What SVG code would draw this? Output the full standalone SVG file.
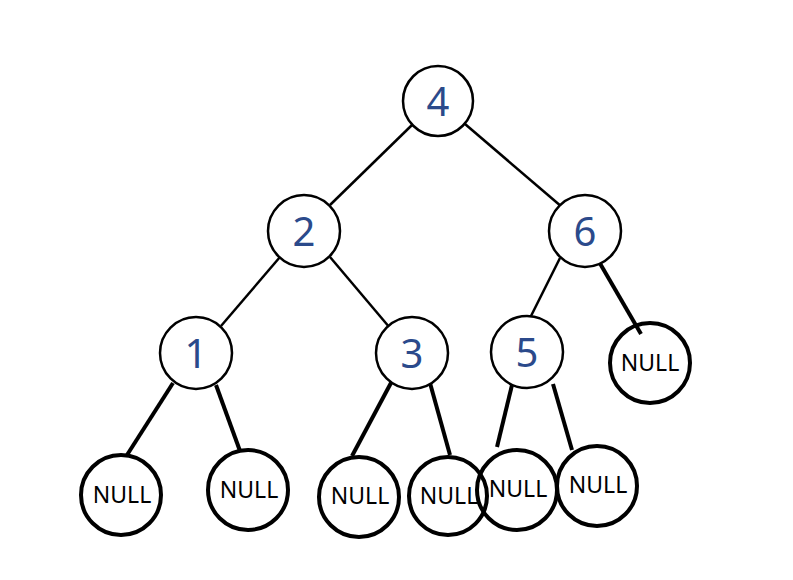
<svg xmlns="http://www.w3.org/2000/svg" width="793" height="580" viewBox="0 0 793 580">
<style>
.n{fill:#fff;stroke:#000;stroke-width:2.5}
.z{fill:none;stroke:#000;stroke-width:4}
.d{font-family:"Noto Sans","DejaVu Sans",sans-serif;font-size:40px;fill:#2B4A8B;text-anchor:middle}
.t{font-family:"Noto Sans","DejaVu Sans",sans-serif;font-size:23px;fill:#000;text-anchor:middle}
.e1{stroke:#000;stroke-width:2.5;fill:none}
.e2{stroke:#000;stroke-width:4;fill:none}
</style>
<rect width="793" height="580" fill="#fff"/>
<g id="edges">
<line class="e1" x1="412" y1="125" x2="330" y2="205"/>
<line class="e1" x1="465" y1="124" x2="562" y2="207"/>
<line class="e1" x1="280" y1="257" x2="221" y2="326"/>
<line class="e1" x1="330" y1="257" x2="390" y2="328"/>
<line class="e1" x1="560" y1="258" x2="530" y2="318"/>
<line class="e2" x1="598" y1="260" x2="641" y2="334"/>
<line class="e2" x1="173" y1="383" x2="127" y2="455"/>
<line class="e2" x1="216" y1="385" x2="240" y2="451"/>
<line class="e2" x1="392" y1="381" x2="352" y2="456"/>
<line class="e2" x1="430" y1="383" x2="450" y2="455"/>
<line class="e2" x1="512" y1="385" x2="497" y2="447"/>
<line class="e2" x1="553" y1="384" x2="572" y2="450"/>
</g>
<g id="n4"><circle class="n" cx="438" cy="101" r="35"/><text class="d" x="438" y="116">4</text></g>
<g id="n2"><circle class="n" cx="304" cy="231" r="36"/><text class="d" x="304" y="246">2</text></g>
<g id="n6"><circle class="n" cx="585" cy="231" r="36"/><text class="d" x="585" y="246">6</text></g>
<g id="n1"><circle class="n" cx="196" cy="353" r="36"/><text class="d" x="196" y="368">1</text></g>
<g id="n3"><circle class="n" cx="412" cy="353" r="36"/><text class="d" x="412" y="368">3</text></g>
<g id="n5"><circle class="n" cx="527" cy="352" r="36"/><text class="d" x="527" y="367">5</text></g>
<g id="null6r"><circle class="z" cx="650" cy="363" r="40"/><text class="t" x="650" y="371">NULL</text></g>
<g id="null1a"><circle class="z" cx="121" cy="495" r="40"/><text class="t" x="122" y="503">NULL</text></g>
<g id="null1b"><circle class="z" cx="248" cy="490" r="40"/><text class="t" x="249" y="498">NULL</text></g>
<g id="null3a"><circle class="z" cx="359" cy="497" r="40"/><text class="t" x="360" y="504">NULL</text></g>
<g id="null3b"><circle class="z" cx="448" cy="496" r="39"/><text class="t" x="449" y="504">NULL</text></g>
<g id="null5a"><circle class="z" cx="517" cy="490" r="40"/><text class="t" x="518" y="497">NULL</text></g>
<g id="null5b"><circle class="z" cx="597" cy="486" r="40"/><text class="t" x="598" y="493">NULL</text></g>
</svg>
